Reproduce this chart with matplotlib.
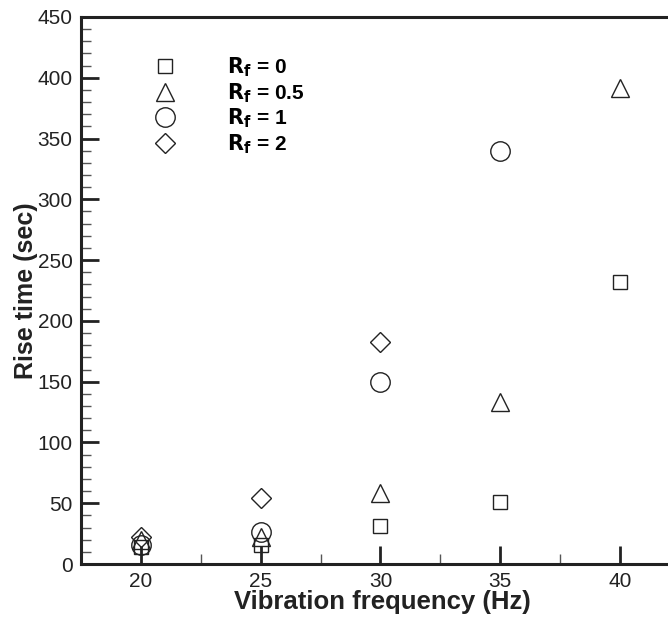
import matplotlib
matplotlib.use('Agg')
import matplotlib.pyplot as plt
from matplotlib.ticker import MultipleLocator

plt.rcParams['font.family'] = ['Liberation Sans', 'DejaVu Sans']

freq = [20, 25, 30, 35, 40]

# rise time (sec) for each friction ratio
rf0 = [14, 16, 31, 51, 232]
rf05 = [20, 22, 58, 133, 392]
rf1 = [16, 26, 150, 340]
rf2 = [22, 54, 183]

labels = [r'$\mathbf{R_f}$ = 0', r'$\mathbf{R_f}$ = 0.5', r'$\mathbf{R_f}$ = 1', r'$\mathbf{R_f}$ = 2']

fig = plt.figure(figsize=(6.68, 6.17), dpi=100)
ax = fig.add_axes([81/668, 53/617, 1 - 81/668, 547/617])

mk = dict(linestyle='none', markerfacecolor='none', markeredgecolor='#222222', markeredgewidth=1.0)
ax.plot(freq, rf0, marker='s', markersize=10, label=labels[0], **mk)
ax.plot(freq, rf05, marker='^', markersize=13, label=labels[1], **mk)
ax.plot(freq[:4], rf1, marker='o', markersize=14, label=labels[2], **mk)
ax.plot(freq[:3], rf2, marker='D', markersize=10, label=labels[3], **mk)

ax.set_xlim(17.5, 42)
ax.set_ylim(0, 450)
ax.xaxis.set_major_locator(MultipleLocator(5))
ax.xaxis.set_minor_locator(MultipleLocator(2.5))
ax.yaxis.set_major_locator(MultipleLocator(50))
ax.yaxis.set_minor_locator(MultipleLocator(10))

ax.spines['right'].set_visible(False)
for s in ['left', 'bottom', 'top']:
    ax.spines[s].set_linewidth(2.2)
    ax.spines[s].set_color('#222222')

ax.tick_params(which='major', direction='in', length=13, width=2, labelsize=15,
               colors='#222222', top=False, right=False, pad=6)
ax.tick_params(which='minor', direction='in', length=7, width=1, colors='#555555',
               top=False, right=False)

ax.set_xlabel('Vibration frequency (Hz)', fontsize=18.5, fontweight='bold', color='#222222',
              va='baseline')
ax.xaxis.set_label_coords(0.5 + 8/587, -45/547)
ax.set_ylabel('Rise time (sec)', fontsize=18, fontweight='bold', color='#222222',
              va='center')
ax.yaxis.set_label_coords(-55/587, 0.5)

leg = ax.legend(loc='upper left', bbox_to_anchor=(0.093, 0.945), frameon=False,
                prop={'weight': 'bold', 'size': 15}, handletextpad=2.0,
                labelspacing=0.1, borderaxespad=0)

fig.savefig('out.png', dpi=100)
